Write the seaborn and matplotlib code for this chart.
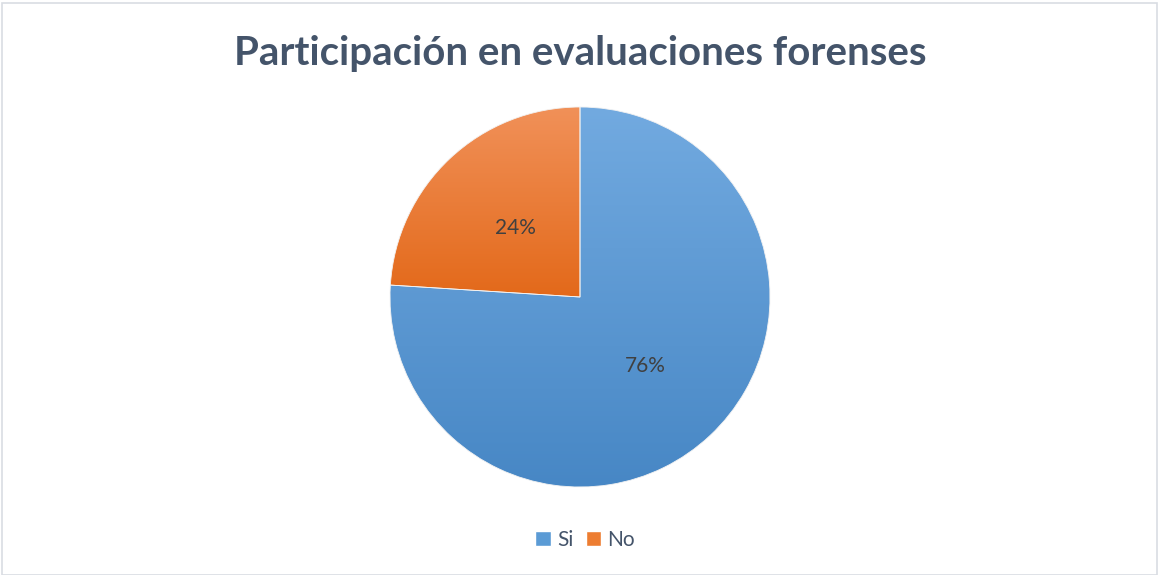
import numpy as np
import matplotlib
matplotlib.use("Agg")
import matplotlib.pyplot as plt
import seaborn as sns
from matplotlib.colors import LinearSegmentedColormap
from matplotlib.patches import Rectangle

categories = ["Si", "No"]
values = [76, 24]
title = "Participación en evaluaciones forenses"

sns.set_theme(style="white")
plt.rcParams['font.family'] = ['Lato', 'DejaVu Sans']

base_colors = ["#5B9BD5", "#ED7D31"]
grad = [("#72AAE0", "#4787C5"), ("#F19159", "#E3691A")]

W, H = 1159, 575
fig = plt.figure(figsize=(W / 100, H / 100), dpi=100)
fig.patch.set_facecolor("white")

# figure border
fig.add_artist(Rectangle((2 / W, 0 / H), (W - 4) / W, (H - 3) / H, transform=fig.transFigure,
                         fill=False, edgecolor="#D9DDE3", linewidth=1.2))

cx, cy, r = 580, 297, 190
ax = fig.add_axes([(cx - r) / W, (H - cy - r) / H, 2 * r / W, 2 * r / H])
wedges, texts = ax.pie(values, colors=base_colors, startangle=90, counterclock=False,
                       radius=1.0, wedgeprops=dict(edgecolor="#F2F2F2", linewidth=0.6))
ax.set_xlim(-1, 1)
ax.set_ylim(-1, 1)
ax.set_aspect("equal")
ax.axis("off")

renderer = fig.canvas.get_renderer()
for w, (top, bot) in zip(wedges, grad):
    bb = w.get_window_extent(renderer=renderer)
    inv = ax.transData.inverted()
    (x0, y0), (x1, y1) = inv.transform([[bb.x0, bb.y0], [bb.x1, bb.y1]])
    cmap = LinearSegmentedColormap.from_list("g", [bot, top])
    img = ax.imshow(np.linspace(0, 1, 256).reshape(-1, 1), cmap=cmap, origin="lower",
                    extent=[x0, x1, y0, y1], aspect="auto", zorder=w.get_zorder())
    img.set_clip_path(w)
    w.set_facecolor("none")
    w.set_zorder(w.get_zorder() + 1)
ax.set_xlim(-1, 1)
ax.set_ylim(-1, 1)

# percentage labels
start = 90.0
for v in values:
    frac = v / sum(values)
    mid = np.deg2rad(start - frac * 360 / 2)
    d = 0.5
    ax.text(d * np.cos(mid), d * np.sin(mid), f"{v:.0f}%", ha="center", va="center",
            fontsize=15, color="#404040", zorder=10)
    start -= frac * 360

fig.text(cx / W, 1 - 53 / H, title, ha="center", va="center", fontsize=29,
         fontweight="bold", color="#44546A")

handles = [Rectangle((0, 0), 1, 1, facecolor=c) for c in base_colors]
fig.legend(handles, categories, loc="center", bbox_to_anchor=(585 / W, 1 - 540 / H), ncol=2,
           frameon=False, fontsize=15, handlelength=0.75, handleheight=0.75, handletextpad=0.3,
           columnspacing=0.6, labelcolor="#44546A")

fig.savefig("out.png", dpi=100, facecolor="white")
